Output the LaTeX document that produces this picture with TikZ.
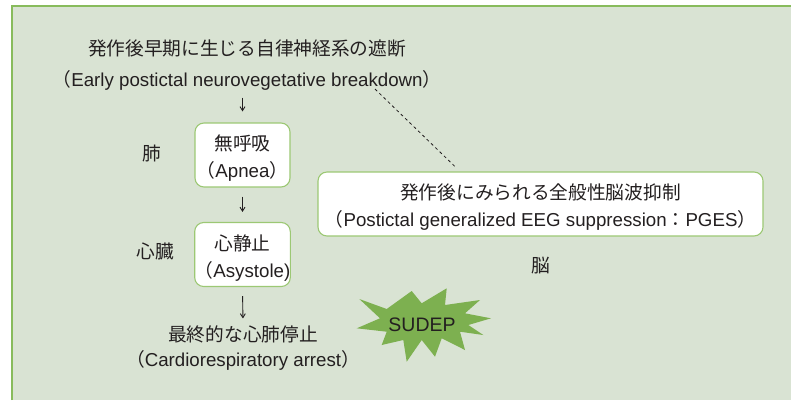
\documentclass[tikz,border=0pt]{standalone}
\usepackage{fontspec}
\setmainfont{Liberation Sans}
\newfontfamily\jp{Noto Sans CJK JP}
\usetikzlibrary{arrows.meta}
\definecolor{bgc}{HTML}{D9E3D3}
\definecolor{framec}{HTML}{88BB5C}
\definecolor{boxc}{HTML}{9CC874}
\definecolor{starc}{HTML}{7DB050}
\definecolor{txtc}{HTML}{231F20}
\newcommand\tstrut{\rule{0pt}{22pt}}
\tikzset{
  txt/.style={inner sep=0pt, text=txtc, align=center, font=\fontsize{18.7}{27}\selectfont},
  ttl/.style={txt, font=\fontsize{18.7}{31}\selectfont},
  rbox/.style={txt, draw=boxc, line width=1.1pt, fill=white, rounded corners=9pt,
    minimum width=95pt, minimum height=64pt},
  arr/.style={-{Straight Barb[length=4pt,width=5pt]}, line width=0.9pt, draw=txtc},
  dashln/.style={dashed, dash pattern=on 3pt off 3pt, line width=0.8pt, draw=txtc},
}
\begin{document}
\begin{tikzpicture}[x=1pt,y=-1pt]
\useasboundingbox (0,0) rectangle (791,400);
\fill[white] (0,0) rectangle (791,400);
\fill[bgc] (12,6) rectangle (791,400);
\draw[framec, line width=2.5pt] (12,400) -- (12,6) -- (791,6);

\node[ttl] (title) at (247,65) {{\jp 発作後早期に生じる自律神経系の遮断}\\{\jp （}Early postictal neurovegetative breakdown{\jp ）}};
\node[rbox] (apnea) at (242.5,155) {\tstrut{\jp 無呼吸}\\{\jp （}Apnea{\jp ）}};
\node[rbox] (asys) at (242.5,254.5) {\tstrut{\jp 心静止}\\{\jp （}Asystole)};
\node[txt, font=\fontsize{18.7}{25}\selectfont] (final) at (243,348) {{\jp 最終的な心肺停止}\\{\jp （}Cardiorespiratory arrest{\jp ）}};
\node[txt, font=\jp\fontsize{18.7}{27}\selectfont] (lung) at (152,154) {肺};
\node[txt, font=\jp\fontsize{18.7}{27}\selectfont] (heart) at (155,251) {心臓};
\node[rbox, minimum width=445pt] (pges) at (540.5,204) {\tstrut{\jp 発作後にみられる全般性脳波抑制}\\{\jp （}Postictal generalized EEG suppression{\jp ：}PGES{\jp ）}};
\node[txt, font=\jp\fontsize{18.7}{27}\selectfont] (brain) at (541,266) {脳};

\draw[arr, shorten <=7pt, shorten >=11pt] (title.south -| apnea.north) -- (apnea.north);
\draw[arr, shorten <=9pt, shorten >=10pt] (apnea.south) -- (asys.north);
\draw[arr, shorten <=9pt, shorten >=7pt] (asys.south) -- (final.north);
\draw[dashln, shorten >=7pt] ([xshift=128pt,yshift=1.5pt]title.south) -- ([xshift=-80.5pt]pges.north);

\fill[starc] (359.3,299) -- (386.7,309) -- (411.7,291) -- (421.7,303.3) -- (446.7,288.3)
  -- (445,305) -- (480,300) -- (465,313.3) -- (491,318.3) -- (468.3,325) -- (483.3,335)
  -- (460,331.7) -- (465,350) -- (441.7,338.3) -- (435,356.7) -- (421.7,340) -- (406.7,361.7)
  -- (403.3,340) -- (381.7,345) -- (386.7,331.7) -- (356.7,328.3) -- (380,318.3) -- cycle;
\node[txt, font=\fontsize{19.5}{22}\selectfont] (sudep) at (422,325) {SUDEP};
\end{tikzpicture}
\end{document}
